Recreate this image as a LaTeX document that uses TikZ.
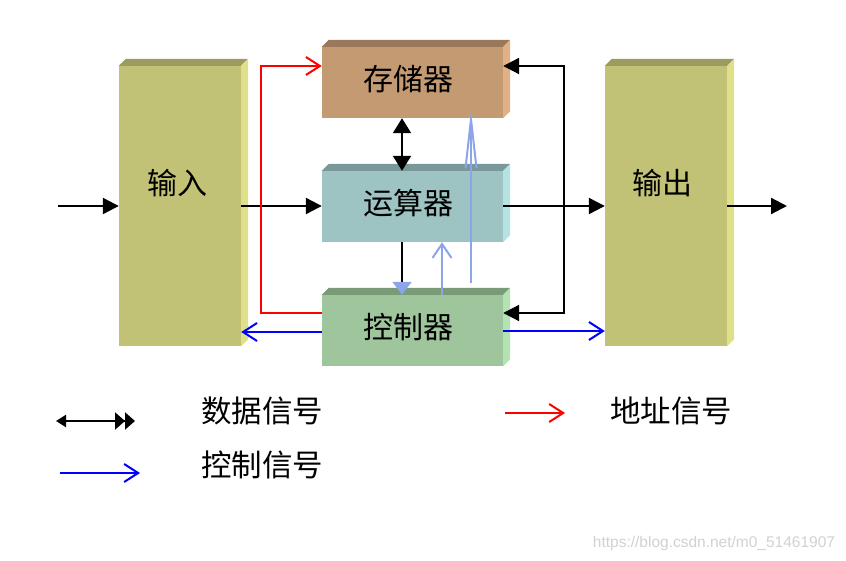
\documentclass[tikz,border=0pt]{standalone}
\usepackage{fontspec}
\newfontfamily\cjk{Noto Sans CJK SC}
\newfontfamily\wmfont{Liberation Sans}
\usetikzlibrary{arrows.meta}
\definecolor{ioF}{HTML}{C2C277}
\definecolor{ioT}{HTML}{9C9C60}
\definecolor{ioS}{HTML}{E0E08A}
\definecolor{memF}{HTML}{C49A72}
\definecolor{memT}{HTML}{99795A}
\definecolor{memS}{HTML}{E2B085}
\definecolor{aluF}{HTML}{9DC3C3}
\definecolor{aluT}{HTML}{7A9898}
\definecolor{aluS}{HTML}{B5E2E2}
\definecolor{ctlF}{HTML}{9EC59B}
\definecolor{ctlT}{HTML}{7B9A78}
\definecolor{ctlS}{HTML}{B5E2B3}
\definecolor{lblue}{HTML}{8CA5E8}
\newcommand\depthfaces[3]{%
  \fill[#2] (#1.north west) -- ++(7,7) -- ([shift={(7,7)}]#1.north east) -- (#1.north east) -- cycle;
  \fill[#3] (#1.north east) -- ++(7,7) -- ([shift={(7,7)}]#1.south east) -- (#1.south east) -- cycle;}
\tikzset{
  x=1pt, y=1pt,
  iobox/.style={minimum width=122pt, minimum height=280pt, inner sep=0pt, fill=ioF},
  unitbox/.style={minimum width=181pt, minimum height=71pt, inner sep=0pt},
  lbl/.style={inner sep=0pt, font=\cjk\fontsize{30}{36}\selectfont},
  legtext/.style={inner sep=0pt, font=\cjk\fontsize{30.5}{36}\selectfont},
  dataline/.style={black, line width=2.2pt},
  blk/.style={-{Triangle[length=16pt,width=16pt]}},
  redline/.style={red, line width=2pt, -{Straight Barb[length=14pt,width=18pt,line width=2pt]}},
  blueline/.style={blue, line width=2pt, -{Straight Barb[length=14pt,width=18pt,line width=2pt]}},
  lbline/.style={lblue, line width=2pt},
}
\begin{document}
\begin{tikzpicture}
\useasboundingbox (0,0) rectangle (846,-561);
% boxes
\node[iobox] (in) at (180,-206) {};
\node[iobox] (out) at (666,-206) {};
\node[unitbox, fill=memF] (mem) at (412.5,-82.5) {};
\node[unitbox, fill=aluF] (alu) at (412.5,-206.5) {};
\node[unitbox, fill=ctlF] (ctl) at (412.5,-330.5) {};
\depthfaces{in}{ioT}{ioS}
\depthfaces{out}{ioT}{ioS}
\depthfaces{mem}{memT}{memS}
\depthfaces{alu}{aluT}{aluS}
\depthfaces{ctl}{ctlT}{ctlS}
% labels
\node[lbl] (intext) at (177,-183) {输入};
\node[lbl] (outtext) at (662,-183) {输出};
\node[lbl] (memtext) at (408,-79) {存储器};
\node[lbl] (alutext) at (408,-203) {运算器};
\node[lbl] (ctltext) at (408,-327) {控制器};
% coordinates
\coordinate (inL) at (58,-206);
\coordinate (outR) at (787,-206);
\coordinate (r1) at (564,-66);
\coordinate (r2) at (564,-313);
\coordinate (rc) at (261,-66);
% data lines
\draw[dataline, blk] (inL) -- (in.west);
\draw[dataline, blk] (in.east) -- (in.east -| alu.west);
\draw[dataline, blk] ([yshift=0.5pt]alu.east) coordinate (a1) -- (a1 -| out.west);
\draw[dataline, blk] (out.east) -- (outR);
\draw[dataline, {Triangle[length=15pt,width=18pt]}-{Triangle[length=15pt,width=18pt]}] ([xshift=-10.5pt]mem.south) -- ([xshift=-10.5pt]alu.north);
\draw[dataline, {Triangle[length=16pt,width=16pt]}-{Triangle[length=16pt,width=16pt]}] ([yshift=16.5pt]mem.east) -- (r1) -- (r2) -- ([yshift=17.5pt]ctl.east);
\draw[dataline, -{Triangle[length=13pt,width=19pt,color=lblue]}] ([xshift=-10.5pt]alu.south) -- ([xshift=-10.5pt]ctl.north);
% address line
\draw[redline] ([yshift=17.5pt]ctl.west) -| (rc) -- (rc -| mem.west);
% control lines
\draw[blueline] ([yshift=-1.5pt]ctl.west) coordinate (b1) -- (b1 -| in.east);
\draw[blueline] ([yshift=-0.5pt]ctl.east) coordinate (b2) -- (b2 -| out.west);
\draw[lbline, -{Straight Barb[length=14pt,width=19pt,line width=2pt]}] ([xshift=29.5pt]ctl.north) -- ([xshift=29.5pt]alu.south);
\draw[lbline, -{Straight Barb[length=49pt,width=11pt,line width=2pt]}] ([xshift=58.5pt,yshift=12pt]ctl.north) -- ([xshift=58.5pt,yshift=8pt]mem.south);
% legend
\coordinate (l1a) at (56,-421);
\coordinate (l1b) at (135,-421);
\coordinate (l2a) at (505,-413);
\coordinate (l2b) at (565,-413);
\coordinate (l3a) at (60,-473);
\coordinate (l3b) at (140,-473);
\draw[dataline, {Triangle[length=10pt,width=12pt]}-{Triangle[length=10pt,width=17pt]Triangle[length=10pt,width=17pt]}] (l1a) -- (l1b);
\draw[redline] (l2a) -- (l2b);
\draw[blueline] (l3a) -- (l3b);
\node[legtext] (leg1) at (262,-411) {数据信号};
\node[legtext] (leg2) at (671,-411) {地址信号};
\node[legtext] (leg3) at (262,-465) {控制信号};
\node[inner sep=0pt, text=black!18, font=\wmfont\fontsize{15.5}{18}\selectfont] (wm) at (714,-543) {https://blog.csdn.net/m0\_51461907};
\end{tikzpicture}
\end{document}
